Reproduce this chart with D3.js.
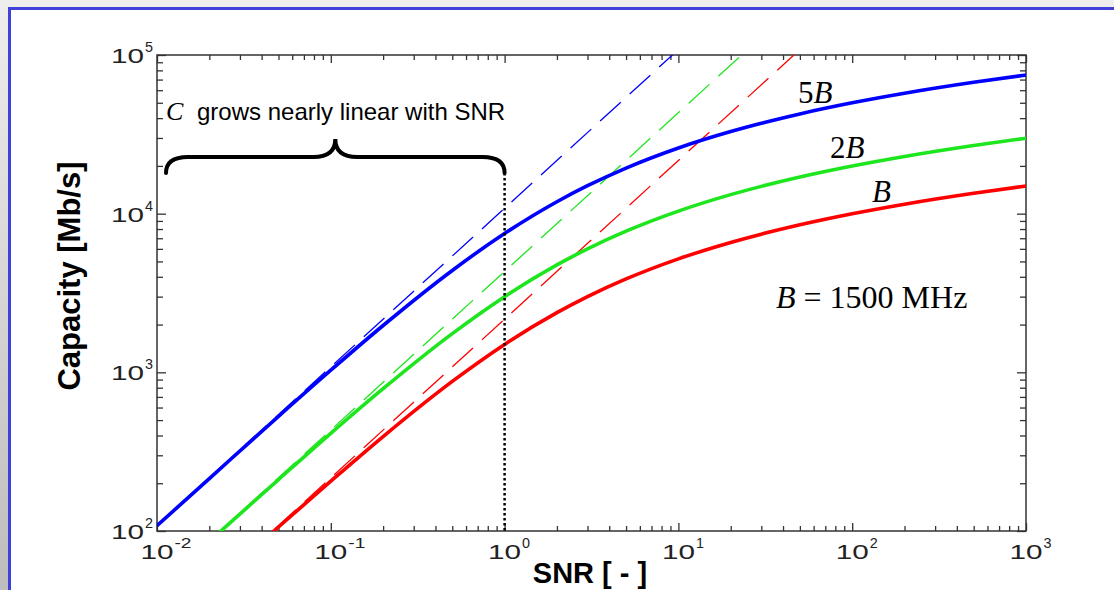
<!DOCTYPE html>
<html>
<head>
<meta charset="utf-8">
<script src="https://cdn.jsdelivr.net/npm/d3@7"></script>
<style>
  body { margin: 0; overflow: hidden; background: #fff; }
  svg { display: block; }
</style>
</head>
<body>
<div id="chart"></div>
<script>
// values (capacity in Mb/s vs SNR)
const snr   = [0.01, 0.02, 0.05, 0.1, 0.2, 0.5, 1, 2, 3, 5, 10, 20, 30, 50, 100, 200, 500, 1000];
const capB  = [21.5, 42.9, 106, 206, 394, 877, 1500, 2377, 3000, 3877, 5190, 6590, 7430, 8510, 9990, 11480, 13450, 14950];
const cap2B = [43, 86, 211, 413, 789, 1755, 3000, 4755, 6000, 7755, 10380, 13180, 14860, 17020, 19975, 22950, 26900, 29900];
const cap5B = [108, 214, 528, 1031, 1973, 4387, 7500, 11890, 15000, 19390, 25950, 32940, 37150, 42540, 49940, 57380, 67250, 74750];

// dashed lines: the low-SNR (linear) approximation
const snrLin = [0.01, 1, 100];
const linB   = [21.6, 2164, 216400];
const lin2B  = [43.3, 4328, 432800];
const lin5B  = [108.2, 10820, 1082000];

const xTicks = [1e-2, 1e-1, 1e0, 1e1, 1e2, 1e3];
const xExp   = ["-2", "-1", "0", "1", "2", "3"];
const yTicks = [1e2, 1e3, 1e4, 1e5];
const yExp   = ["2", "3", "4", "5"];

const curveNames  = ["5B", "2B", "B"];
const curveColors = ["#0000ff", "#1ee61e", "#ff0000"];

const W = 1114, H = 590;
const pL = 157, pR = 1026, pT = 55, pB = 531;

const svg = d3.select("#chart").append("svg")
  .attr("width", W).attr("height", H);

// slide background
const defs = svg.append("defs");
const grad = defs.append("linearGradient").attr("id", "bg")
  .attr("x1", 0).attr("y1", 0).attr("x2", 0).attr("y2", 1);
grad.append("stop").attr("offset", "0%").attr("stop-color", "#eeeeee");
grad.append("stop").attr("offset", "100%").attr("stop-color", "#bdbdbd");
svg.append("rect").attr("width", W).attr("height", H).attr("fill", "url(#bg)");
svg.append("rect").attr("x", 8).attr("y", 7).attr("width", W).attr("height", H).attr("fill", "#4040d8");
svg.append("rect").attr("x", 11).attr("y", 10).attr("width", W).attr("height", H).attr("fill", "#ffffff");

defs.append("clipPath").attr("id", "plot")
  .append("rect").attr("x", pL).attr("y", pT)
  .attr("width", pR - pL).attr("height", pB - pT);

const x = d3.scaleLog().domain([0.01, 1000]).range([pL, pR]);
const y = d3.scaleLog().domain([100, 1e5]).range([pB, pT]);

// minor ticks 2..9 in every decade
function minors(lo, hi) {
  let out = [];
  for (let e = lo; e < hi; e++)
    for (let m = 2; m <= 9; m++) out.push(m * Math.pow(10, e));
  return out;
}
const xMinor = minors(-2, 3);
const yMinor = minors(2, 5);

function tickAxis(axis, g, vals, size) {
  g.call(axis.tickValues(vals).tickSize(size).tickSizeOuter(0).tickFormat(""));
  g.select(".domain").remove();
  g.selectAll("line").attr("stroke", "#333").attr("stroke-width", 1.3);
}
[[xTicks, -8], [xMinor, -5]].forEach(([v, s]) => {
  tickAxis(d3.axisBottom(x), svg.append("g").attr("transform", `translate(0,${pB})`), v, s);
  tickAxis(d3.axisTop(x), svg.append("g").attr("transform", `translate(0,${pT})`), v, s);
});
[[yTicks, -9], [yMinor, -6]].forEach(([v, s]) => {
  tickAxis(d3.axisLeft(y), svg.append("g").attr("transform", `translate(${pL},0)`), v, s);
  tickAxis(d3.axisRight(y), svg.append("g").attr("transform", `translate(${pR},0)`), v, s);
});
svg.append("rect").attr("x", pL).attr("y", pT)
  .attr("width", pR - pL).attr("height", pB - pT)
  .attr("fill", "none").attr("stroke", "#333").attr("stroke-width", 1.5);

// tick labels, drawn wide like in the original
function powLabel(xPos, yBase, exp, anchorEnd) {
  const baseW = 33, expW = 9 * exp.length;
  const x0 = anchorEnd ? xPos - baseW - expW : xPos - baseW / 2;
  svg.append("text").attr("x", x0).attr("y", yBase)
    .attr("font-family", "Liberation Sans, Arial, sans-serif").attr("font-size", 20)
    .attr("fill", "#222").attr("textLength", baseW).attr("lengthAdjust", "spacingAndGlyphs")
    .text("10");
  svg.append("text").attr("x", x0 + baseW + 1).attr("y", yBase - 11)
    .attr("font-family", "Liberation Sans, Arial, sans-serif").attr("font-size", 14)
    .attr("fill", "#222").attr("textLength", expW - 1).attr("lengthAdjust", "spacingAndGlyphs")
    .text(exp);
}
xTicks.forEach((t, i) => powLabel(x(t), 559, xExp[i], false));
yTicks.forEach((t, i) => powLabel(153, y(t) + 8, yExp[i], true));

// axis titles
svg.append("text").attr("transform", "translate(80,276) rotate(-90)")
  .attr("text-anchor", "middle")
  .attr("font-family", "Liberation Sans, Arial, sans-serif")
  .attr("font-weight", "bold").attr("font-size", 31)
  .text("Capacity [Mb/s]");
svg.append("text").attr("x", 590).attr("y", 583)
  .attr("text-anchor", "middle")
  .attr("font-family", "Liberation Sans, Arial, sans-serif")
  .attr("font-weight", "bold").attr("font-size", 29)
  .text("SNR [ - ]");

// curves
const plot = svg.append("g").attr("clip-path", "url(#plot)");
const line = d3.line().x(d => x(d[0])).y(d => y(d[1])).curve(d3.curveMonotoneX);

[lin5B, lin2B, linB].forEach((vals, i) => {
  plot.append("path")
    .attr("d", line(snrLin.map((s, j) => [s, vals[j]])))
    .attr("fill", "none").attr("stroke", curveColors[i])
    .attr("stroke-width", 1.3).attr("stroke-dasharray", "28,12");
});
[cap5B, cap2B, capB].forEach((vals, i) => {
  plot.append("path")
    .attr("d", line(snr.map((s, j) => [s, vals[j]])))
    .attr("fill", "none").attr("stroke", curveColors[i])
    .attr("stroke-width", 3.6);
});

// brace over the near-linear region + dotted marker at SNR = 1
const bx0 = x(0.01) + 9, bx1 = x(1), bm = (bx0 + bx1) / 2;
const by0 = 173, by1 = 157, byc = 139;
const brace = d3.path();
brace.moveTo(bx0, by0);
brace.quadraticCurveTo(bx0, by1, bx0 + 22, by1);
brace.lineTo(bm - 22, by1);
brace.quadraticCurveTo(bm, by1, bm, byc);
brace.quadraticCurveTo(bm, by1, bm + 22, by1);
brace.lineTo(bx1 - 22, by1);
brace.quadraticCurveTo(bx1, by1, bx1, by0);
svg.append("path").attr("d", brace.toString())
  .attr("fill", "none").attr("stroke", "#000").attr("stroke-width", 4)
  .attr("stroke-linecap", "round");
svg.append("line").attr("x1", x(1)).attr("x2", x(1))
  .attr("y1", by0).attr("y2", pB)
  .attr("stroke", "#000").attr("stroke-width", 2.5).attr("stroke-dasharray", "2.5,2.5");

svg.append("text").attr("x", 166).attr("y", 120)
  .attr("font-family", "Liberation Serif, Times New Roman, serif")
  .attr("font-style", "italic").attr("font-size", 26).text("C");
svg.append("text").attr("x", 197).attr("y", 120)
  .attr("font-family", "Liberation Sans, Arial, sans-serif")
  .attr("font-size", 24).text("grows nearly linear with SNR");

// curve labels
const labelPos = [[798, 103], [830, 158], [872, 202]];
curveNames.forEach((n, i) => {
  const t = svg.append("text").attr("x", labelPos[i][0]).attr("y", labelPos[i][1])
    .attr("font-family", "Liberation Serif, Times New Roman, serif").attr("font-size", 31);
  const k = n.slice(0, -1);
  if (k) t.append("tspan").text(k);
  t.append("tspan").attr("font-style", "italic").text("B");
});
const bt = svg.append("text").attr("x", 776).attr("y", 308)
  .attr("font-family", "Liberation Serif, Times New Roman, serif").attr("font-size", 32);
bt.append("tspan").attr("font-style", "italic").text("B");
bt.append("tspan").text(" = 1500 MHz");
</script>
</body>
</html>
